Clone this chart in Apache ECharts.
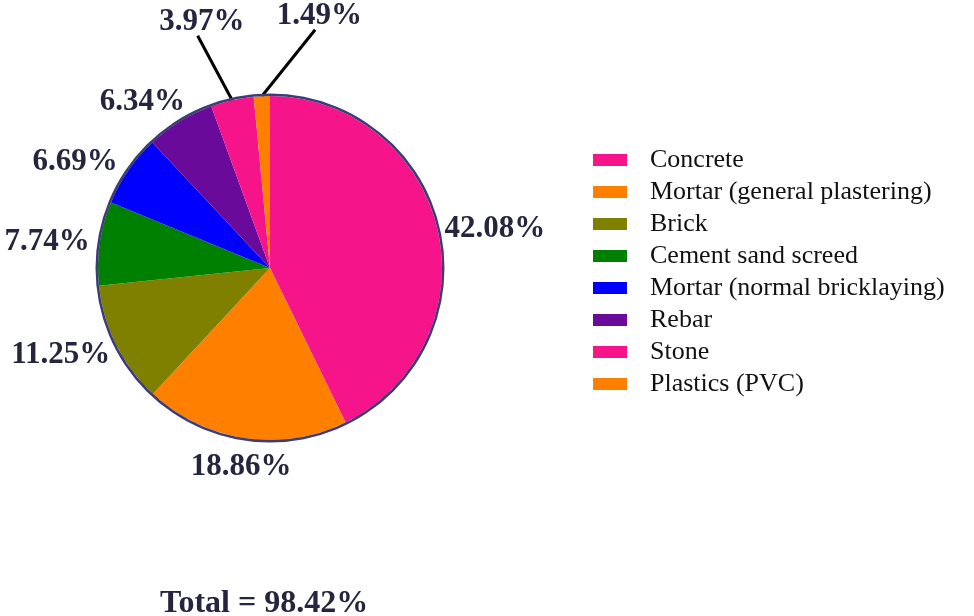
<!DOCTYPE html>
<html>
<head>
<meta charset="utf-8">
<script src="https://cdn.jsdelivr.net/npm/echarts@6/dist/echarts.min.js"></script>
<style>
  html, body { margin: 0; padding: 0; background: #fff; }
  #chart { width: 974px; height: 616px; }
</style>
</head>
<body>
<div id="chart"></div>
<script>
// data
var categories = ['Concrete', 'Mortar (general plastering)', 'Brick', 'Cement sand screed',
  'Mortar (normal bricklaying)', 'Rebar', 'Stone', 'Plastics (PVC)']
var shares = [42.08, 18.86, 11.25, 7.74, 6.69, 6.34, 3.97, 1.49]
var totalText = 'Total = 98.42%'

var colors = ['#f5148a', '#ff8000', '#808000', '#008000', '#0000ff', '#6a0a9a', '#f5148a', '#ff8000']
// label nudges (style only)
var labelShift = [[0, 0], [52, 27], [1, 9], [-3, -1], [-4, -7], [11, -18], [35, 0], [109, 0]]
var leaderItems = [6, 7]

var serif = '"Liberation Serif", "Times New Roman", serif'
var chart = echarts.init(document.getElementById('chart'))

var pieData = categories.map(function (name, i) {
  var item = { name: name, value: shares[i], itemStyle: { color: colors[i] } }
  if (leaderItems.indexOf(i) >= 0) {
    item.labelLine = { show: true, length: 80, length2: 0 }
  }
  return item
})

chart.setOption({
  backgroundColor: '#fff',
  animation: false,
  title: {
    text: totalText,
    left: 155,
    top: 583,
    textStyle: { fontFamily: serif, fontWeight: 'bold', fontSize: 32, color: '#25253f' }
  },
  legend: {
    orient: 'vertical',
    left: 588,
    top: 142,
    itemWidth: 34,
    itemHeight: 12,
    itemGap: 6,
    icon: 'rect',
    data: categories,
    textStyle: { fontFamily: serif, fontSize: 26, lineHeight: 24, color: '#111', padding: [0, 0, 0, 18] }
  },
  series: [
    {
      type: 'pie',
      center: [270, 268],
      radius: 172,
      startAngle: 90,
      clockwise: true,
      avoidLabelOverlap: false,
      data: pieData,
      itemStyle: { borderWidth: 0 },
      label: {
        show: true,
        position: 'outside',
        formatter: function (p) { return p.value.toFixed(2) + '%' },
        fontFamily: serif,
        fontWeight: 'bold',
        fontSize: 31,
        color: '#25253f'
      },
      labelLine: {
        show: false,
        length: 2,
        length2: 0,
        smooth: false,
        lineStyle: { color: '#000', width: 3 }
      },
      labelLayout: function (p) {
        var i = p.dataIndex
        var s = labelShift[i]
        var out = { dx: s[0], dy: s[1] }
        if (leaderItems.indexOf(i) >= 0 && p.labelLinePoints) {
          var r = p.labelRect
          var start = p.labelLinePoints[0]
          var end = [r.x + s[0] + r.width * 0.45, r.y + s[1] + r.height - 2]
          out.labelLinePoints = [start, end, end]
        }
        return out
      },
      emphasis: { disabled: true }
    },
    {
      type: 'pie',
      center: [270, 268],
      radius: [172, 174.5],
      silent: true,
      label: { show: false },
      labelLine: { show: false },
      data: [{ name: 'rim', value: 1, itemStyle: { color: '#3c3c78' } }]
    }
  ]
})
</script>
</body>
</html>
